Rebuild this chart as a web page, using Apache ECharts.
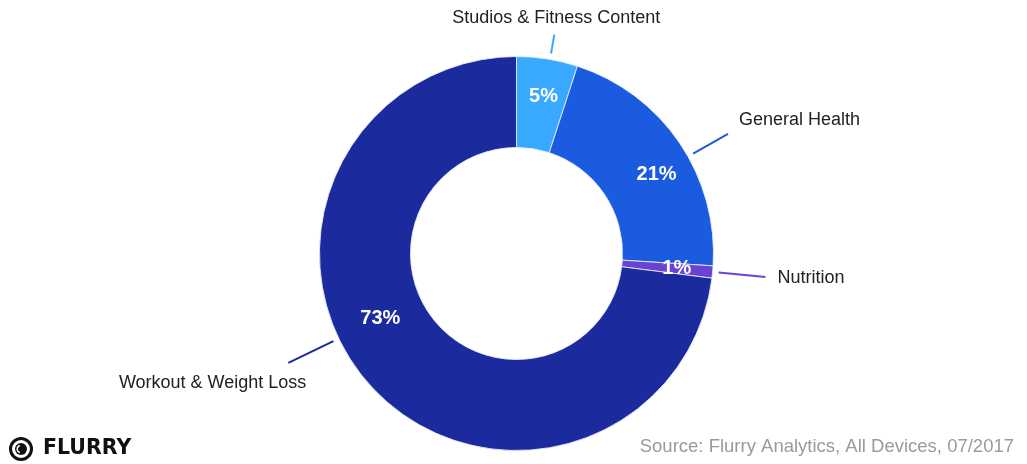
<!DOCTYPE html>
<html>
<head>
<meta charset="utf-8">
<script src="https://cdn.jsdelivr.net/npm/echarts@6/dist/echarts.min.js"></script>
<style>
  html, body { margin: 0; padding: 0; background: #ffffff; }
  #chart { width: 1027px; height: 464px; }
</style>
</head>
<body>
<div id="chart"></div>
<script>
// Share of fitness app sessions by sub-category
const categories = ['Studios & Fitness Content', 'General Health', 'Nutrition', 'Workout & Weight Loss'];
const shares = [5, 21, 1, 73];
const sliceColors = ['#39a9ff', '#1a5be0', '#6a43d4', '#1b2a9d'];

// Donut geometry (pixels)
const CX = 516.5, CY = 253.5, R_IN = 106, R_OUT = 197;
// Callout placement: angle (deg, clockwise from 12 o'clock) and line end radius
const calloutAngle = [9.8, 60.5, 95.4, 244.4];
const calloutEndR = [222, 243, 250, 253];
const calloutStartR = 203;
const nameOffset = [[2, -17, 'center'], [11, -14, 'left'], [12, 1, 'left'], [18, 20, 'right']];
const pctRadius = [159, 161, 161, 151];

function polar(angleDeg, r) {
  const a = angleDeg * Math.PI / 180;
  return [CX + r * Math.sin(a), CY - r * Math.cos(a)];
}

const chart = echarts.init(document.getElementById('chart'), null, { renderer: 'canvas' });

const sliceData = categories.map((name, i) => ({
  name: name,
  value: shares[i],
  itemStyle: { color: sliceColors[i] }
}));

const calloutData = categories.map((name, i) => ({
  name: name,
  value: shares[i],
  itemStyle: { color: 'rgba(0,0,0,0)' },
  labelLine: { lineStyle: { color: sliceColors[i] } }
}));

chart.setOption({
  backgroundColor: '#ffffff',
  animation: false,
  series: [
    {
      type: 'pie',
      center: [CX, CY],
      radius: [R_IN, R_OUT],
      startAngle: 90,
      clockwise: true,
      silent: true,
      avoidLabelOverlap: false,
      itemStyle: { borderColor: 'rgba(235,240,255,0.85)', borderWidth: 1 },
      label: {
        show: true,
        position: 'inside',
        formatter: p => p.value + '%',
        color: '#ffffff',
        fontFamily: 'Liberation Sans, Arial, sans-serif',
        fontWeight: 'bold',
        fontSize: 20
      },
      labelLine: { show: false },
      labelLayout: function (params) {
        const i = params.dataIndex;
        const p = polar(calloutAngle[i], pctRadius[i]);
        return { x: p[0], y: p[1], align: 'center', verticalAlign: 'middle' };
      },
      data: sliceData
    },
    {
      type: 'pie',
      center: [CX, CY],
      radius: [R_IN, R_OUT],
      startAngle: 90,
      clockwise: true,
      silent: true,
      avoidLabelOverlap: false,
      z: 3,
      itemStyle: { color: 'rgba(0,0,0,0)', borderWidth: 0 },
      label: {
        show: true,
        position: 'outside',
        formatter: '{b}',
        color: '#222222',
        fontFamily: 'Liberation Sans, Arial, sans-serif',
        fontSize: 18
      },
      labelLine: { show: true, length: 10, length2: 0, lineStyle: { width: 2 } },
      labelLayout: function (params) {
        const i = params.dataIndex;
        const a = polar(calloutAngle[i], calloutStartR);
        const b = polar(calloutAngle[i], calloutEndR[i]);
        const off = nameOffset[i];
        return {
          x: b[0] + off[0],
          y: b[1] + off[1],
          align: off[2],
          verticalAlign: 'middle',
          labelLinePoints: [a, b]
        };
      },
      data: calloutData
    }
  ],
  graphic: [
    {
      type: 'group',
      left: 8,
      top: 436,
      children: [
        { type: 'circle', shape: { cx: 13, cy: 12, r: 10.5 }, style: { fill: 'none', stroke: '#111111', lineWidth: 3 } },
        { type: 'circle', shape: { cx: 13, cy: 12, r: 6 }, style: { fill: '#111111' } },
        { type: 'arc', shape: { cx: 13, cy: 12, r: 3.8, startAngle: Math.PI * 0.6, endAngle: Math.PI * 1.4 }, style: { stroke: '#ffffff', lineWidth: 1.6, fill: 'none' } },
        {
          type: 'text', x: 35, y: 12,
          style: {
            text: 'FLURRY', fill: '#111111',
            font: '900 20.5px "DejaVu Sans", sans-serif',
            verticalAlign: 'middle'
          }
        }
      ]
    },
    {
      type: 'text',
      right: 13,
      top: 437,
      style: {
        text: 'Source: Flurry Analytics, All Devices, 07/2017',
        fill: '#9a9a9a',
        font: '18.5px "Liberation Sans", Arial, sans-serif'
      }
    }
  ]
});
</script>
</body>
</html>
